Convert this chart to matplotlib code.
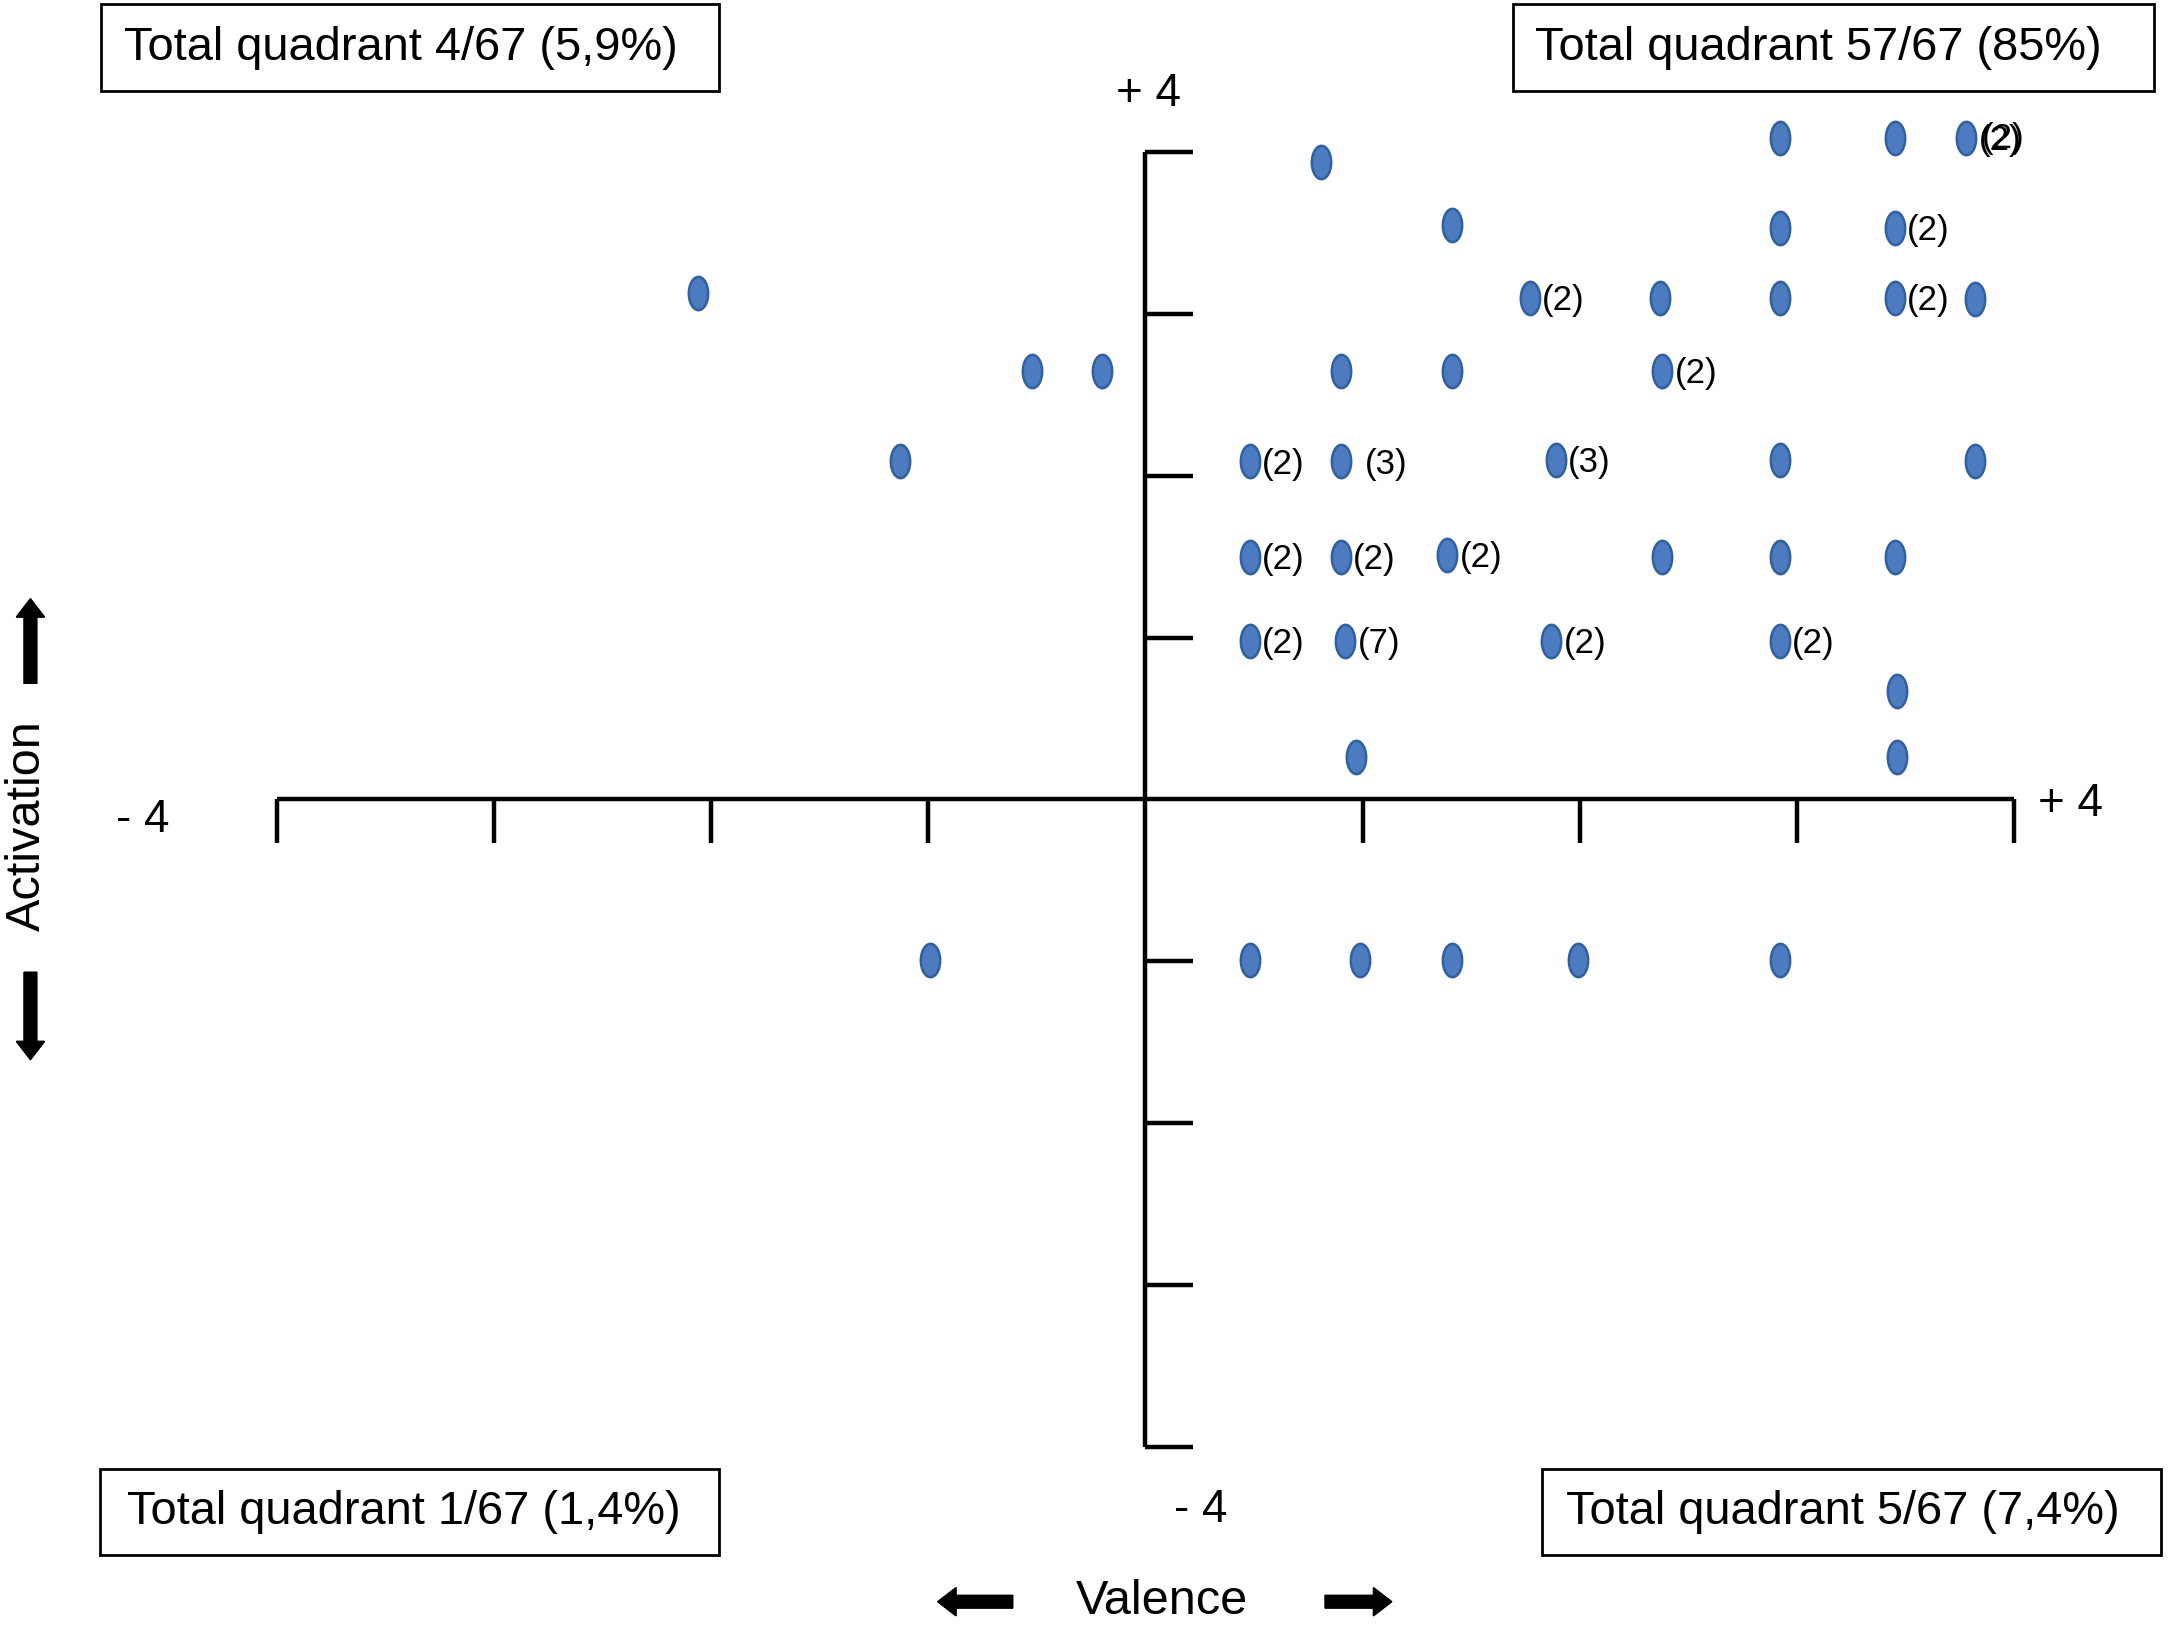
import numpy as np
import matplotlib
matplotlib.use('Agg')
import matplotlib.pyplot as plt
from matplotlib.path import Path
from matplotlib.patches import Rectangle

plt.rcParams['font.family'] = ['Liberation Sans', 'DejaVu Sans']

# valence (x) / activation (y) of each answer, with repeat count (1 = no label)
valence = [0.81, 2.92, 3.45, 3.78, 1.41, 2.92, 3.45, 1.77, 2.37, 2.92, 3.45, 3.82,
           0.90, 1.41, 2.38, 0.48, 0.90, 1.89, 2.92, 3.82, 0.48, 0.90, 1.39, 2.38,
           2.92, 3.45, 0.48, 0.92, 1.87, 2.92, 3.46, 0.97, 3.46,
           -2.06, -0.52, -0.20, -1.13,
           -0.99, 0.48, 0.99, 1.41, 1.99, 2.92]
activation = [3.94, 4.09, 4.09, 4.09, 3.55, 3.53, 3.53, 3.10, 3.10, 3.10, 3.10, 3.09,
              2.65, 2.65, 2.65, 2.09, 2.09, 2.10, 2.10, 2.09, 1.50, 1.50, 1.51, 1.50,
              1.50, 1.50, 0.98, 0.98, 0.98, 0.98, 0.67, 0.26, 0.26,
              3.13, 2.65, 2.65, 2.09,
              -0.99, -0.99, -0.99, -0.99, -0.99, -0.99]
count = [1, 1, 1, 2, 1, 1, 2, 2, 1, 1, 2, 1,
         1, 1, 2, 2, 3, 3, 1, 1, 2, 2, 2, 1,
         1, 1, 2, 7, 2, 2, 1, 1, 1,
         1, 1, 1, 1,
         1, 1, 1, 1, 1, 1]

quadrant_text = ['Total quadrant 4/67 (5,9%)', 'Total quadrant 57/67 (85%)',
                 'Total quadrant 1/67 (1,4%)', 'Total quadrant 5/67 (7,4%)']

# reference picture geometry (in the 1568 x 1177 layout)
W, H = 1568.0, 1177.0
x0, y0, sx, sy = 828.0, 578.0, 157.0, 117.0


def fx(px):
    return px / W


def fy(py):
    return 1 - py / H


fig = plt.figure(figsize=(21.69, 16.28), dpi=100)
ax = fig.add_axes([0, 0, 1, 1])
ax.set_xlim(-x0 / sx, (W - x0) / sx)
ax.set_ylim((y0 - H) / sy, y0 / sy)
ax.axis('off')

lw = 3.2
# axes with ticks
ax.plot([-4, 4], [0, 0], color='k', lw=lw, solid_capstyle='butt')
ax.plot([0, 0], [-4, 4], color='k', lw=lw, solid_capstyle='butt')
for t in range(-4, 5):
    if t != 0:
        ax.plot([t, t], [0, -0.27], color='k', lw=lw, solid_capstyle='butt')
        ax.plot([0, 0.22], [t, t], color='k', lw=lw, solid_capstyle='butt')

# ellipse marker
th = np.linspace(0, 2 * np.pi, 60)
ell = Path(np.column_stack([0.58 * np.cos(th), np.sin(th)]))
ax.scatter(valence, activation, marker=ell, s=24 ** 2, c='#4c7bbf',
           edgecolors='#30609f', linewidths=1.8, zorder=3)

for x, y, n in zip(valence, activation, count):
    if n > 1:
        dx = 17 if n == 3 and x < 1 else 9
        ax.annotate(f'({n})', (x, y), xytext=(dx, -2), textcoords='offset points',
                    ha='left', va='center', fontsize=25)
        if x > 3.7:
            ax.annotate(f'({n})', (x, y), xytext=(dx + 2, -1), textcoords='offset points',
                        ha='left', va='center', fontsize=25)

# axis end labels
fig.text(fx(830), fy(68), '+ 4', ha='center', va='center', fontsize=33)
fig.text(fx(103), fy(593), '- 4', ha='center', va='center', fontsize=33)
fig.text(fx(1497), fy(581), '+ 4', ha='center', va='center', fontsize=33)
fig.text(fx(868), fy(1092), '- 4', ha='center', va='center', fontsize=33)

fig.text(fx(20), fy(597), 'Activation', rotation=90, ha='center', va='center', fontsize=35)
fig.text(fx(840), fy(1158), 'Valence', ha='center', va='center', fontsize=35)

arrow = dict(arrowstyle='simple,head_width=1.0,head_length=0.65,tail_width=0.45',
             color='k', mutation_scale=20, shrinkA=0, shrinkB=0)
for (tx, ty), (hx, hy) in [((22, 494), (22, 433)), ((22, 703), (22, 766)),
                           ((732, 1158), (678, 1158)), ((958, 1158), (1006, 1158))]:
    fig.add_artist(plt.annotate('', xy=(fx(hx), fy(hy)), xytext=(fx(tx), fy(ty)),
                                xycoords='figure fraction', textcoords='figure fraction',
                                arrowprops=arrow))

# quadrant boxes
boxes = [(73, 3, 520, 66, 90), (1094, 3, 1557, 66, 1110),
         (72, 1062, 520, 1124, 92), (1115, 1062, 1562, 1124, 1132)]
for (l, t, r, b, tx), s in zip(boxes, quadrant_text):
    fig.add_artist(Rectangle((fx(l), fy(b)), fx(r) - fx(l), fy(t) - fy(b),
                             transform=fig.transFigure, fill=False, ec='k', lw=2))
    fig.text(fx(tx), fy((t + b) / 2), s, ha='left', va='center', fontsize=33.8)

fig.savefig('out.png', dpi=100)
